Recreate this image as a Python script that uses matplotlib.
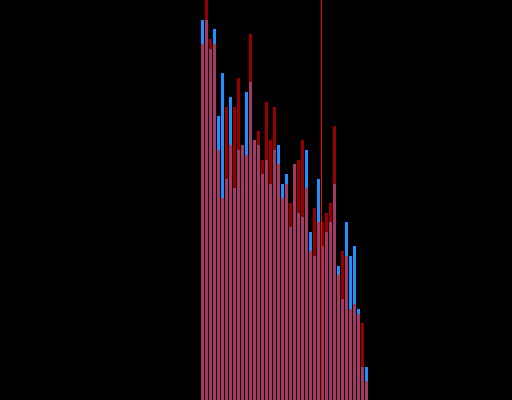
import numpy as np
import pandas as pd
import matplotlib
matplotlib.use("Agg")
import matplotlib.pyplot as plt

# bin index of each bar
bins = list(range(42))

# bar heights
blue_counts = [380, 380, 351, 371, 284, 327, 221, 303, 212, 250, 255, 308, 318, 260,
               255, 226, 240, 216, 250, 255, 216, 226, 173, 236, 187, 183, 250, 168,
               144, 221, 154, 168, 178, 216, 134, 101, 178, 144, 154, 91, 33, 33]
red_counts = [356, 430, 361, 356, 250, 202, 293, 255, 293, 322, 255, 245, 366, 260,
              269, 240, 298, 260, 293, 236, 202, 216, 197, 236, 240, 260, 212, 149,
              192, 178, 178, 187, 197, 274, 125, 149, 144, 91, 96, 86, 77, 19]

# position of the marker line (in bin units)
marker = 29.875

df = pd.DataFrame({"blue": blue_counts, "red": red_counts}, index=bins)

fig = plt.figure(figsize=(5.12, 4.0), dpi=100, facecolor="black")
ax = fig.add_axes([0, 0, 1, 1])
ax.set_facecolor("black")

# blue first, red half transparent on top
ax.bar(df.index, df["blue"], width=0.75, align="edge", color="#1E90FF", linewidth=0)
ax.bar(df.index, df["red"], width=0.75, align="edge", color="#FF0000", alpha=0.6, linewidth=0)
# thin marker line, about 1 px wide
ax.axvline(marker, color="#FF0000", linewidth=0.72, zorder=5)

ax.set_xlim(-50.25, 77.75)
ax.set_ylim(0, 400)
ax.axis("off")

fig.savefig("out.png", dpi=100, facecolor="black")
